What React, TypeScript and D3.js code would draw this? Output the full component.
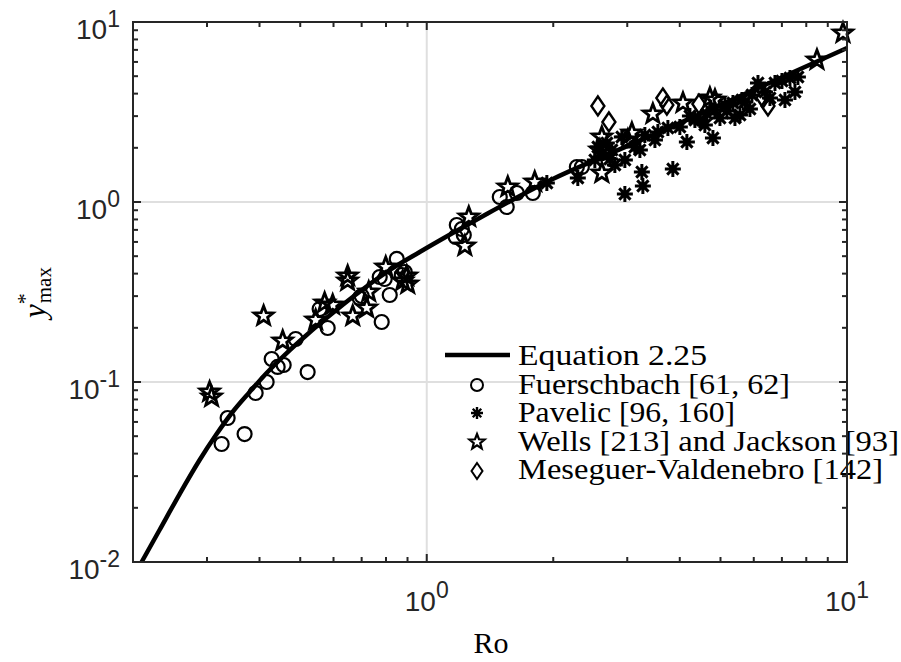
import React from "react";
import * as d3 from "d3";

// Equation 2.25 curve
const equationRo = [0.2097, 0.2313, 0.2582, 0.2881, 0.3162, 0.3451, 0.379, 0.4159, 0.4642, 0.5179, 0.5972, 0.6664, 0.8029, 0.9623, 1.153, 1.389, 1.665, 1.995, 2.582, 3.587, 4.467, 6.449, 10];
const equationY = [0.01, 0.01506, 0.02386, 0.03687, 0.0514, 0.06813, 0.088, 0.1122, 0.1449, 0.1825, 0.2416, 0.2967, 0.4084, 0.5275, 0.6727, 0.8577, 1.08, 1.342, 1.756, 2.448, 3.083, 4.524, 7.17];

// Fuerschbach [61, 62]
const fuerschbachRo = [0.325, 0.3359, 0.3686, 0.3916, 0.4159, 0.4276, 0.4418, 0.4566, 0.4876, 0.5207, 0.5561, 0.5811, 0.6925, 0.7001, 0.7729, 0.7943, 0.7813, 0.8165, 0.8484, 0.8864, 0.872, 1.179, 1.212, 1.225, 1.172, 1.492, 1.55, 1.638, 1.788, 2.276, 2.339];
const fuerschbachY = [0.04523, 0.0631, 0.0514, 0.0869, 0.1, 0.1342, 0.1212, 0.1243, 0.1733, 0.1136, 0.2543, 0.1995, 0.2929, 0.3005, 0.3831, 0.3734, 0.2154, 0.3044, 0.4825, 0.4084, 0.393, 0.7452, 0.7079, 0.6556, 0.639, 1.066, 0.938, 1.122, 1.122, 1.565, 1.565];

// Pavelic [96, 160]
const pavelicRo = [2.288, 2.554, 2.624, 2.683, 2.727, 2.961, 2.961, 3.127, 3.25, 3.268, 3.548, 3.851, 4.002, 4.159, 4.229, 4.467, 4.642, 4.797, 4.59, 4.851, 4.985, 5.179, 5.354, 5.563, 5.623, 5.875, 6.14, 6.38, 6.556, 6.739, 7.002, 7.118, 7.316, 7.519, 7.642, 1.931, 2.912, 3.304, 2.803, 3.215, 5.412, 5.94, 2.512, 2.757, 3.491, 3.748, 4.346, 5.124, 5.717];
const pavelicY = [1.359, 2.021, 1.872, 2.127, 1.733, 1.711, 1.108, 2.021, 1.468, 1.227, 2.448, 1.525, 2.61, 2.154, 3.005, 2.855, 3.083, 2.268, 2.678, 3.245, 2.929, 3.203, 3.548, 3.044, 3.687, 3.286, 4.583, 4.084, 3.782, 4.583, 4.701, 3.687, 4.886, 4.084, 4.948, 1.275, 2.297, 2.356, 1.606, 1.945, 2.929, 3.93, 1.711, 1.945, 2.21, 2.577, 2.855, 3.458, 3.594];

// Wells [213] and Jackson [93]
const wellsRo = [0.3043, 0.3077, 0.4091, 0.4542, 0.5441, 0.5715, 0.5973, 0.6484, 0.6484, 0.6666, 0.7198, 0.7277, 0.7988, 0.8767, 0.8962, 0.9011, 1.232, 1.259, 1.559, 1.807, 2.61, 2.61, 3.077, 3.452, 4.071, 4.718, 8.483, 9.783, 2.582, 3.01, 4.851];
const wellsY = [0.088, 0.0825, 0.2326, 0.1689, 0.2211, 0.2748, 0.2678, 0.388, 0.364, 0.2326, 0.2576, 0.3162, 0.4354, 0.364, 0.388, 0.3503, 0.5696, 0.8254, 1.212, 1.292, 1.449, 2.297, 2.417, 3.083, 3.548, 3.782, 6.15, 8.687, 1.945, 2.21, 3.687];

// Meseguer-Valdenebro [142]
const meseguerRo = [2.554, 2.713, 3.646, 3.727, 4.442, 6.31, 6.485];
const meseguerY = [3.415, 2.783, 3.782, 3.458, 3.503, 3.782, 3.415];

const xMajor = [1, 10];
const xMajorLabels = ["0", "1"];
const yMajor = [0.01, 0.1, 1, 10];
const yMajorLabels = ["-2", "-1", "0", "1"];
const legendLabels = [
  "Equation 2.25",
  "Fuerschbach [61, 62]",
  "Pavelic [96, 160]",
  "Wells [213] and Jackson [93]",
  "Meseguer-Valdenebro [142]",
];

const L = 133, R = 847, T = 22, B = 562;
const AX = "#262626";
const SANS = "'Liberation Sans', Arial, sans-serif";
const SERIF = "'Liberation Serif', 'Times New Roman', serif";
const LEGEND_WIDTHS = [189, 272, 217, 381, 365];

function starPath(R0: number, r0: number) {
  const pts: string[] = [];
  for (let i = 0; i < 10; i++) {
    const a = -Math.PI / 2 + (i * Math.PI) / 5;
    const rr = i % 2 === 0 ? R0 : r0;
    pts.push(`${(rr * Math.cos(a)).toFixed(2)},${(rr * Math.sin(a)).toFixed(2)}`);
  }
  return "M" + pts.join("L") + "Z";
}
function asteriskPath(s: number) {
  const d = s * 0.7071;
  return `M${-s},0L${s},0M0,${-s}L0,${s}M${-d},${-d}L${d},${d}M${-d},${d}L${d},${-d}`;
}
function diamondPath(w: number, h: number) {
  return `M0,${-h}L${w},0L0,${h}L${-w},0Z`;
}

export default function App() {
  const x = d3.scaleLog().domain([0.2, 10]).range([L, R]);
  const y = d3.scaleLog().domain([0.01, 10]).range([B, T]);

  const xMinor: number[] = [];
  [0.1, 1].forEach((d) => { for (let k = 2; k <= 9; k++) { const v = d * k; if (v > 0.2 && v < 10) xMinor.push(v); } });
  const yMinor: number[] = [];
  [0.01, 0.1, 1].forEach((d) => { for (let k = 2; k <= 9; k++) yMinor.push(d * k); });

  const line = d3.line<[number, number]>()
    .x((d) => x(d[0]))
    .y((d) => y(d[1]))
    .curve(d3.curveMonotoneX);
  const curveD = line(equationRo.map((r, i) => [r, equationY[i]]) as [number, number][]) || "";

  const star = starPath(10, 4.2);
  const ast = asteriskPath(8);
  const dia = diamondPath(6.5, 9.5);

  const major = 8, minor = 5;

  const legX = 477, legTextX = 518;
  const legBase = [365, 393.5, 422, 450.5, 479];

  return (
    <svg width={901} height={662} style={{ position: "absolute", left: 0, top: 0, background: "#fff" }}>
      <rect x={0} y={0} width={901} height={662} fill="#fff" />
      {/* grid */}
      <g stroke="#dfdfdf" strokeWidth={2}>
        {xMajor.filter((v) => v < 10).map((v) => (
          <line key={"gx" + v} x1={x(v)} x2={x(v)} y1={T} y2={B} />
        ))}
        {yMajor.filter((v) => v > 0.01 && v < 10).map((v) => (
          <line key={"gy" + v} x1={L} x2={R} y1={y(v)} y2={y(v)} />
        ))}
      </g>

      {/* data */}
      <g fill="none" stroke="#000">
        {fuerschbachRo.map((r, i) => (
          <circle key={"f" + i} cx={x(r)} cy={y(fuerschbachY[i])} r={7} strokeWidth={2.2} />
        ))}
        {pavelicRo.map((r, i) => (
          <path key={"p" + i} d={ast} transform={`translate(${x(r)},${y(pavelicY[i])})`} strokeWidth={3} />
        ))}
        {wellsRo.map((r, i) => (
          <path key={"w" + i} d={star} transform={`translate(${x(r)},${y(wellsY[i])})`} strokeWidth={2.8} strokeLinejoin="miter" />
        ))}
        {meseguerRo.map((r, i) => (
          <path key={"m" + i} d={dia} transform={`translate(${x(r)},${y(meseguerY[i])})`} strokeWidth={2.4} />
        ))}
      </g>
      <path d={curveD} fill="none" stroke="#000" strokeWidth={4.5} />

      {/* legend */}
      <g>
        <line x1={445} x2={510} y1={355} y2={355} stroke="#000" strokeWidth={4.5} />
        <circle cx={legX} cy={385} r={6} fill="none" stroke="#000" strokeWidth={2} />
        <path d={asteriskPath(6)} transform={`translate(${legX},${413})`} stroke="#000" strokeWidth={2.4} fill="none" />
        <path d={starPath(8, 3.4)} transform={`translate(${legX},${442})`} stroke="#000" strokeWidth={2.2} fill="none" />
        <path d={diamondPath(5.5, 8)} transform={`translate(${legX},${471})`} stroke="#000" strokeWidth={2} fill="none" />
        {legendLabels.map((t, i) => (
          <text key={"lt" + i} x={legTextX} y={legBase[i]} fontFamily={SERIF} fontSize={28.5} fill="#000"
            textLength={LEGEND_WIDTHS[i]} lengthAdjust="spacingAndGlyphs">{t}</text>
        ))}
      </g>

      {/* axes box */}
      <g stroke={AX} strokeWidth={2} fill="none">
        <rect x={L} y={T} width={R - L} height={B - T} />
        {xMajor.map((v) => (
          <g key={"xM" + v}>
            <line x1={x(v)} x2={x(v)} y1={B} y2={B - major} />
            <line x1={x(v)} x2={x(v)} y1={T} y2={T + major} />
          </g>
        ))}
        {xMinor.map((v) => (
          <g key={"xm" + v}>
            <line x1={x(v)} x2={x(v)} y1={B} y2={B - minor} />
            <line x1={x(v)} x2={x(v)} y1={T} y2={T + minor} />
          </g>
        ))}
        {yMajor.map((v) => (
          <g key={"yM" + v}>
            <line x1={L} x2={L + major} y1={y(v)} y2={y(v)} />
            <line x1={R} x2={R - major} y1={y(v)} y2={y(v)} />
          </g>
        ))}
        {yMinor.map((v) => (
          <g key={"ym" + v}>
            <line x1={L} x2={L + minor} y1={y(v)} y2={y(v)} />
            <line x1={R} x2={R - minor} y1={y(v)} y2={y(v)} />
          </g>
        ))}
      </g>

      {/* tick labels */}
      <g fontFamily={SANS} fill={AX}>
        {xMajor.map((v, i) => (
          <text key={"xl" + v} x={x(v)} y={611} textAnchor="middle" fontSize={28}>
            10<tspan dy={-13} fontSize={23}>{xMajorLabels[i]}</tspan>
          </text>
        ))}
        {yMajor.map((v, i) => (
          <text key={"yl" + v} x={120} y={y(v) + 17} textAnchor="end" fontSize={28}>
            10<tspan dy={-12} fontSize={23}>{yMajorLabels[i]}</tspan>
          </text>
        ))}
      </g>

      {/* axis labels */}
      <text x={491} y={653} textAnchor="middle" fontFamily={SERIF} fontSize={30} fill="#000">Ro</text>
      <g transform="translate(45,318) rotate(-90)">
        <text x={0} y={0} fontFamily={SERIF} fontSize={31} fill="#000">
          <tspan fontStyle="italic">y</tspan>
          <tspan dy={-13} fontSize={22}>*</tspan>
          <tspan dx={-10} dy={19} fontSize={21}>max</tspan>
        </text>
      </g>
    </svg>
  );
}
